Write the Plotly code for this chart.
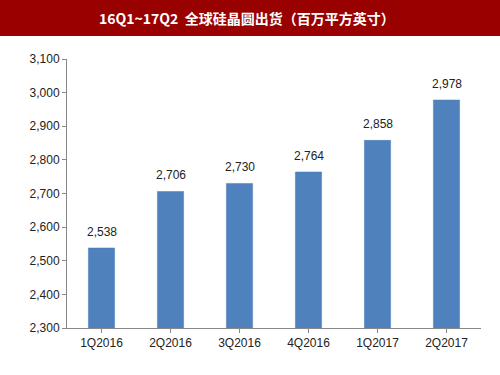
import plotly.graph_objects as go

categories = ["1Q2016", "2Q2016", "3Q2016", "4Q2016", "1Q2017", "2Q2017"]
values = [2538, 2706, 2730, 2764, 2858, 2978]
title_text = "16Q1~17Q2  全球硅晶圆出货（百万平方英寸）"

W, H = 500, 375
ml, mr, mt, mb = 67, 19, 59, 47
pw, ph = W - ml - mr, H - mt - mb
font_fam = "Liberation Sans, Arial"

fig = go.Figure()
fig.add_trace(go.Bar(
    x=categories, y=values,
    marker=dict(color="#4F81BD", line=dict(color="#4A7AB5", width=0.5)),
    width=0.38,
    cliponaxis=False,
))
for c, v in zip(categories, values):
    fig.add_annotation(x=c, y=v, text=f"{v:,}", showarrow=False,
                       yanchor="middle", yshift=16,
                       font=dict(family=font_fam, size=12, color="#222222"))

band_h = 36
fig.add_shape(type="rect", xref="paper", yref="paper",
              x0=-ml / pw - 0.05, x1=1 + mr / pw + 0.05,
              y0=1 + (mt - band_h) / ph, y1=1 + mt / ph + 0.05,
              fillcolor="#990000", line=dict(width=0), layer="below")
fig.add_annotation(text=f"<b>{title_text}</b>", xref="paper", yref="paper",
                   x=(247 - ml) / pw, y=1 + (mt - 18) / ph,
                   xanchor="center", yanchor="middle", showarrow=False,
                   font=dict(family="Noto Sans CJK SC, Liberation Sans", size=14, color="white"))

fig.update_layout(
    width=W, height=H,
    margin=dict(l=ml, r=mr, t=mt, b=mb),
    paper_bgcolor="white", plot_bgcolor="white",
    showlegend=False,
    xaxis=dict(showline=True, linecolor="#888888", linewidth=1,
               ticks="outside", ticklen=4, tickcolor="#888888",
               tickmode="array", tickvals=categories,
               tickfont=dict(family=font_fam, size=12, color="#222222"),
               showgrid=False),
    yaxis=dict(range=[2300, 3100], dtick=100, tickformat=",",
               showline=True, linecolor="#888888", linewidth=1,
               ticks="outside", ticklen=4, tickcolor="#888888",
               tickfont=dict(family=font_fam, size=12, color="#222222"),
               showgrid=False, zeroline=False),
)

fig.write_html("out.html", config={"displayModeBar": False},
               post_script="document.body.style.margin='0';")
